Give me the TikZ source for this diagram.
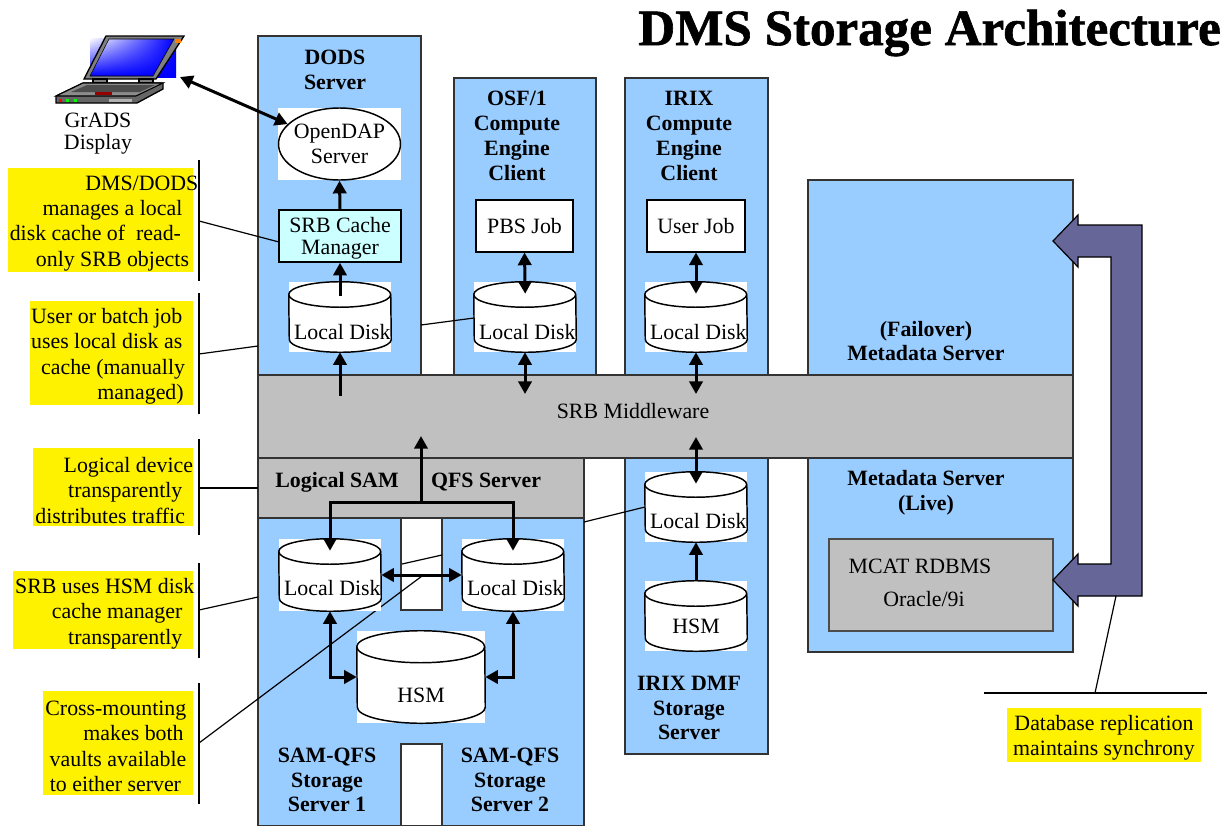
\documentclass[tikz,border=0pt]{standalone}
\usepackage{fontspec}
\setmainfont{Liberation Serif}
\newfontfamily\titlefont[UprightFont=* Bold,FakeBold=1.2]{Liberation Serif}
\usetikzlibrary{arrows.meta,shapes.geometric,shadings}
\definecolor{panelblue}{HTML}{99CCFF}
\definecolor{midgray}{HTML}{C0C0C0}
\definecolor{cachecyan}{HTML}{CCFFFF}
\definecolor{pipeblue}{HTML}{666699}
\tikzset{
    boxsize/.style 2 args={minimum width=#1*0.75pt, minimum height=#2*0.75pt, inner sep=0pt},
    panel/.style={draw=black!80, line width=0.8pt, fill=panelblue},
    graypanel/.style={draw=black!80, line width=0.8pt, fill=midgray},
    strip/.style={draw=black!80, line width=0.8pt, fill=white},
    whitebox/.style={draw=black, line width=1.2pt, fill=white, align=center},
    diskback/.style={fill=white},
    diskline/.style={draw=black, line width=1.1pt, fill=white},
    flow/.style={line width=2.25pt, -{Triangle[length=9.5pt,width=10pt]}},
    flowboth/.style={line width=2.25pt, {Triangle[length=9.5pt,width=10pt]}-{Triangle[length=9.5pt,width=10pt]}},
    lead/.style={line width=0.9pt},
    note/.style={fill=yellow, inner sep=0pt},
    notetext/.style={anchor=east, inner sep=0pt, yshift=-2.5pt, text width=200pt, align=flush right, font=\fontsize{16.4}{19.1}\selectfont},
    bold/.style={font=\fontsize{16.4}{18.6}\selectfont\bfseries, align=center}
}
% name, x, y, width, height, label, label offset
\newcommand{\disknode}[7]{
    \node[diskback, boxsize={#4}{#5}] (#1) at (#2,#3) {};
    \draw[diskline] ([yshift=-#4*0.09375pt]#1.north west) arc[start angle=180, end angle=0, x radius=#4*0.375pt, y radius=#4*0.09375pt]
        -- ([yshift=#4*0.09375pt]#1.south east) arc[start angle=0, end angle=-180, x radius=#4*0.375pt, y radius=#4*0.09375pt] -- cycle;
    \draw[diskline, fill=none] ([yshift=-#4*0.09375pt]#1.north west) arc[start angle=180, end angle=360, x radius=#4*0.375pt, y radius=#4*0.09375pt];
    \node (#1text) at (#2,#3+#7) {#6};
}
\newcommand{\pad}[1]{\hspace*{#1pt}\mbox{}}
\newcommand{\localdisk}{\hspace*{3.5pt}Local Disk}

\begin{document}
\begin{tikzpicture}[x=0.75pt, y=-0.75pt, font=\fontsize{16.4}{18.6}\selectfont]
    \useasboundingbox (0,0) rectangle (1228,825);

    % title
    \node[anchor=east, inner sep=0pt, font=\fontsize{38.3}{40}\selectfont\titlefont] (title) at (1221,33) {DMS Storage Architecture};

    % laptop
    \shade[upper left=white, upper right=blue, lower left=blue, lower right=blue] (90,38) rectangle (176,77);
    \draw[line width=1pt, fill=black!50] (106,36) -- (184,36) -- (156,79) -- (84,79) -- cycle;
    \shade[draw=black, upper left=white, upper right=blue, lower left=blue, lower right=blue] (109,39) -- (174,39) -- (153,76) -- (90,76) -- cycle;
    \fill[orange] (175,39) rectangle (181,43);
    \draw[line width=0.8pt, fill=black!50] (93,79) rectangle (107,83);
    \draw[line width=0.8pt, fill=black!50] (139,79) rectangle (153,83);
    \draw[line width=1pt, fill=black!60] (83,83) -- (163,83) -- (163,89) -- (137,103) -- (56,103) -- (56,96) -- cycle;
    \draw[line width=0.8pt, fill=black!45] (83,83) -- (163,83) -- (136,96) -- (56,96) -- cycle;
    \fill[black!70] (87,85) -- (155,85) -- (140,92) -- (71,92) -- cycle;
    \fill[red!60!black] (95,92) rectangle (112,95);
    \fill[red] (59,99) rectangle (62,102);
    \fill[green] (66,99) rectangle (69,102);
    \fill[green] (74,99) rectangle (77,102);
    \fill[black!30] (109,99) rectangle (132,102);
    \coordinate (laptop) at (180,77);
    \node[align=center, font=\fontsize{16.4}{16.5}\selectfont] (grads) at (98,134) {GrADS\\Display};

    % servers
    \draw[panel] (258,36) rectangle (421,375);
    \draw[panel] (454,78) rectangle (596,375);
    \draw[panel] (625,78) rectangle (768,375);
    \draw[panel] (625,458) rectangle (768,754);
    \draw[panel] (808,180) rectangle (1073,652);
    \draw[panel] (258,518) rectangle (584,826);
    \draw[strip] (401,518) rectangle (442,610);
    \draw[strip] (401,744) rectangle (442,826);
    \draw[graypanel] (258,375) rectangle (1073,458);
    \draw[graypanel] (258,458) rectangle (584,518);

    \node[bold] (dods) at (335,70) {DODS\\Server};
    \node[bold] (osf) at (517,136) {OSF/1\\Compute\\Engine\\Client};
    \node[bold] (irix) at (689,136) {IRIX\\Compute\\Engine\\Client};
    \node[bold] (failover) at (926,341) {(Failover)\\Metadata Server};
    \node[bold] (live) at (926,493) {Metadata Server\\(Live)};
    \node[bold] (dmf) at (689,708) {IRIX DMF\\Storage\\Server};
    \node[bold] (sam1) at (327,780) {SAM-QFS\\Storage\\Server 1};
    \node[bold] (sam2) at (510,780) {SAM-QFS\\Storage\\Server 2};
    \node[bold] (logical) at (337,482) {Logical SAM};
    \node[bold] (qfs) at (486,482) {QFS Server};
    \node (middle) at (633,411) {SRB Middleware};

    % notes
    \node[note, boxsize={185}{104}] (note1) at (100.5,220) {};
    \node[notetext] (note1text) at (note1.east) {DMS/DODS\pad{-4}\\manages a local\pad{8}\\disk cache of\ \ read-\pad{9}\\only SRB objects\pad{3}};
    \node[note, boxsize={163}{104}] (note2) at (111.5,353) {};
    \node[notetext] (note2text) at (note2.east) {User or batch job\pad{8}\\uses local disk as\pad{8}\\cache (manually\pad{6}\\managed)\pad{7}};
    \node[note, boxsize={160}{78}] (note3) at (113,487) {};
    \node[notetext] (note3text) at (note3.east) {Logical device\\transparently\pad{8}\\distributes traffic\pad{6}};
    \node[note, boxsize={180}{78}] (note4) at (103,610) {};
    \node[notetext] (note4text) at (note4.east) {SRB uses HSM disk\pad{-1}\\cache manager\pad{8}\\transparently\pad{8}};
    \node[note, boxsize={150}{104}] (note5) at (118,743) {};
    \node[notetext] (note5text) at (note5.east) {Cross-mounting\pad{5}\\makes both\pad{7}\\vaults available\pad{5}\\to either server\pad{9}};
    \node[note, boxsize={194}{54}] (note6) at (1104,735) {};
    \node[align=center, yshift=-2pt] (note6text) at (note6) {Database replication\\maintains synchrony};

    \foreach \n/\ya/\yb/\ym in {1/160/281/221, 2/293/414/354, 3/439/535/488, 4/563/658/610, 5/683/804/743}{
        \draw[lead] (199,\ya) -- (199,\yb);
        \coordinate (bar\n) at (199,\ym);
    }
    \coordinate (rep) at (1095,693);
    \draw[lead] (984,693) -- (1207,693);

    % cross mounting line goes in under the disks
    \coordinate (cross) at (422,576);
    \draw[lead] (bar5) -- (cross);
    \coordinate (crossa) at (402,564);
    \coordinate (crossb) at (442,555);
    \draw[lead] (crossa) -- (crossb);
    \coordinate (crossc) at (584,522);
    \coordinate (crossd) at (645,507);
    \draw[lead] (crossc) -- (crossd);
    \coordinate (lead2) at (258,346);
    \draw[lead] (bar2) -- (lead2);
    \coordinate (lead3) at (258,488);
    \draw[lead] (bar3) -- (lead3);
    \coordinate (lead4) at (258,597);
    \draw[lead] (bar4) -- (lead4);
    \coordinate (osfa) at (421,325);
    \coordinate (osfb) at (474,318);
    \draw[lead] (osfa) -- (osfb);

    % boxes in the columns
    \node[diskback, boxsize={123}{72}] (opendapback) at (339.5,144) {};
    \node[ellipse, whitebox, boxsize={122}{72}, inner sep=-2pt, line width=1.1pt] (opendap) at (339.5,144) {OpenDAP\\Server};
    \node[whitebox, fill=cachecyan, boxsize={122}{52}, font=\fontsize{16.4}{16.5}\selectfont] (cache) at (340,236) {\rule{0pt}{15pt}SRB Cache\\Manager};
    \node[whitebox, line width=0.8pt, boxsize={97}{52}] (pbs) at (524.5,226) {PBS Job};
    \node[whitebox, line width=0.8pt, boxsize={98}{52}] (userjob) at (696,226) {User Job};
    \node[whitebox, draw=black!70, line width=0.8pt, fill=midgray, boxsize={224}{92}] (mcat) at (941,585) {};
    \node (mcatname) at (920,566) {MCAT RDBMS};
    \node (oracle) at (924,599) {Oracle/9i};

    \disknode{dodsdisk}{340}{317}{102}{70}{\localdisk}{15}
    \disknode{osfdisk}{525}{317}{102}{70}{\localdisk}{15}
    \disknode{irixdisk}{696}{317}{102}{70}{\localdisk}{15}
    \disknode{dmfdisk}{696}{507}{102}{70}{\localdisk}{14}
    \disknode{dmfhsm}{696}{616}{102}{70}{HSM}{10}
    \disknode{samdiska}{330}{575}{102}{72}{\localdisk}{13}
    \disknode{samdiskb}{513}{575}{102}{72}{\localdisk}{13}
    \disknode{samhsm}{421}{677}{128}{92}{HSM}{18}

    \coordinate (cachetail) at (340,296);
    \coordinate (dodsup) at (340,396);
    \coordinate (osfmid) at (525,394);
    \coordinate (irixmid) at (696,394);
    \coordinate (dmfmid) at (696,437);
    \coordinate (samup) at (421,436);
    \coordinate (samfork) at (421,502);

    % connectors
    \draw[flowboth] (laptop) -- (opendap.159);
    \draw[flow] (cache.north) -- (opendap.south);
    \draw[flow] (cachetail) -- (cache.south);
    \draw[flow] (dodsup) -- (dodsdisk.south);
    \draw[flowboth, shorten >=-9pt] (pbs.south) -- (osfdisk.north);
    \draw[flowboth] (osfdisk.south) -- (osfmid);
    \draw[flowboth, shorten >=-9pt] (userjob.south) -- (irixdisk.north);
    \draw[flowboth] (irixdisk.south) -- (irixmid);
    \draw[flowboth, shorten >=-9pt] (dmfmid) -- (dmfdisk.north);
    \draw[flow] (dmfhsm.north) -- (dmfdisk.south);
    \draw[flow] (samfork) -- (samup);
    \draw[flow, shorten >=-9pt] (samfork) -| (samdiska.north);
    \draw[flow, shorten >=-9pt] (samfork) -| (samdiskb.north);
    \draw[flowboth] (samdiska.east) -- (samdiskb.west);
    \draw[flowboth] (samdiska.south) |- (samhsm.west);
    \draw[flowboth] (samdiskb.south) |- (samhsm.east);

    % replication pipe
    \draw[line width=0.9pt, fill=pipeblue] (1053,241) -- (1078,215) -- (1078,225) -- (1142,225) -- (1142,596) -- (1078,596) -- (1078,606) -- (1053,580) -- (1078,554) -- (1078,564) -- (1111,564) -- (1111,257) -- (1078,257) -- (1078,267) -- cycle;
    \coordinate (pipe) at (1116,596);
    \draw[lead] (pipe) -- (rep);

    % note leaders that touch boxes
    \coordinate (lead1) at (279,242);
    \draw[lead] (bar1) -- (lead1);
\end{tikzpicture}
\end{document}
